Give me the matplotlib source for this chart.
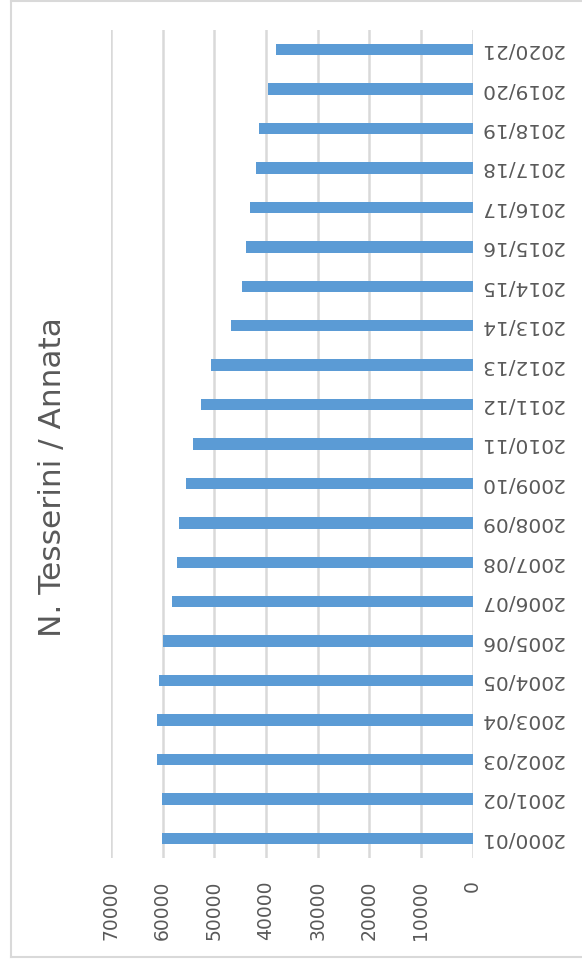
import matplotlib
matplotlib.use("Agg")
import matplotlib.pyplot as plt
from matplotlib.lines import Line2D

categories = ["2000/01", "2001/02", "2002/03", "2003/04", "2004/05", "2005/06",
              "2006/07", "2007/08", "2008/09", "2009/10", "2010/11", "2011/12",
              "2012/13", "2013/14", "2014/15", "2015/16", "2016/17", "2017/18",
              "2018/19", "2019/20", "2020/21"]
values = [60200, 60200, 61000, 61000, 60700, 60000, 58200, 57300, 56800, 55500,
          54100, 52500, 50600, 46800, 44600, 43900, 43100, 41900, 41300, 39600, 38100]
xticks = [0, 10000, 20000, 30000, 40000, 50000, 60000, 70000]
title = "N. Tesserini / Annata"

W, H = 582, 964
fig = plt.figure(figsize=(W / 100, H / 100), dpi=100)
ax = fig.add_axes([111 / W, 1 - 858 / H, (472.5 - 111) / W, (858 - 30) / H])

ypos = list(range(len(categories)))
ax.barh(ypos, values, height=0.29, color="#5B9BD5", zorder=3)
ax.set_xlim(70000, 0)
ax.set_ylim(-0.5, len(categories) - 0.5)
ax.set_xticks(xticks)
ax.set_xticklabels([str(v) for v in xticks], rotation=90, fontsize=13.5, color="#595959")
ax.set_yticks(ypos)
ax.set_yticklabels(categories, rotation=180, fontsize=14.5, color="#595959")
ax.yaxis.tick_right()
ax.tick_params(axis="x", length=0, pad=16)
ax.tick_params(axis="y", length=0, pad=5)
for lab in ax.get_yticklabels():
    lab.set_ha("left")
    lab.set_va("center")
ax.grid(axis="x", color="#D9D9D9", linewidth=1.8, zorder=0)
for s in ax.spines.values():
    s.set_visible(False)

fig.text(53 / W, 1 - 477.5 / H, title, rotation=90, ha="center", va="center",
         fontsize=22.5, color="#595959")

# chart frame
bc = "#D9D9D9"
fig.add_artist(Line2D([11 / W, 11 / W], [1 - 957 / H, 1 - 1 / H], color=bc, lw=1.5, transform=fig.transFigure))
fig.add_artist(Line2D([11 / W, 1.0], [1 - 1 / H, 1 - 1 / H], color=bc, lw=1.5, transform=fig.transFigure))
fig.add_artist(Line2D([11 / W, 1.0], [1 - 957 / H, 1 - 957 / H], color=bc, lw=1.5, transform=fig.transFigure))

fig.savefig("out.png", dpi=100, facecolor="white")
